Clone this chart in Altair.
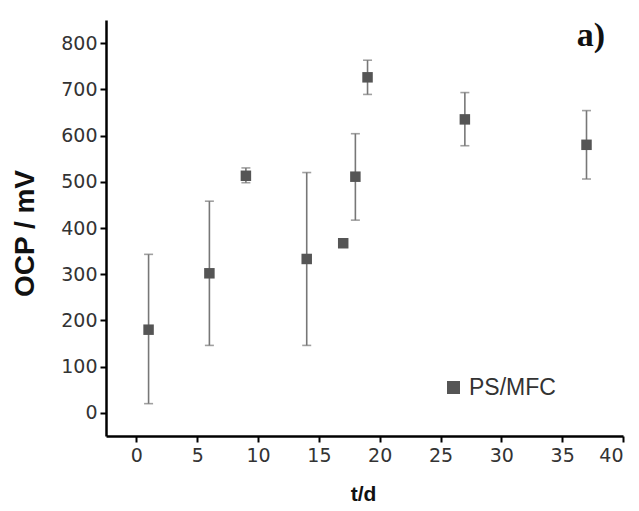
import altair as alt
import pandas as pd

days = [1, 6, 9, 14, 17, 18, 19, 27, 37]
ocp = [180, 302, 513, 333, 367, 511, 726, 635, 580]
err_low = [20, 146, 498, 146, 359, 417, 689, 578, 506]
err_high = [343, 458, 530, 520, 375, 604, 763, 693, 654]
series = ["PS/MFC"] * len(days)

df = pd.DataFrame({"t": days, "ocp": ocp, "lo": err_low, "hi": err_high, "series": series})

x_ticks = [i * 2.5 for i in range(0, 17)]
y_ticks = [i * 50 for i in range(0, 18)]

xscale = alt.Scale(domain=[-2.5, 40], nice=False, zero=False)
yscale = alt.Scale(domain=[-50, 850], nice=False, zero=False)

label_font = "DejaVu Sans"

xaxis = alt.Axis(
    values=x_ticks,
    labelExpr="datum.value % 5 === 0 ? datum.label : ''",
    labelOverlap=False,
    grid=False,
    domainColor="black", domainWidth=2.5,
    tickColor="black", tickWidth=2,
    tickSize={"condition": {"test": "datum.value % 5 !== 0", "value": 3}, "value": 6},
    labelFont=label_font, labelFontSize=19, labelColor="#333", labelPadding=4,
    title="t/d", titleFont="Liberation Sans", titleFontSize=21, titleFontWeight="bold",
    titleColor="#111", titleX=257, titleY=64, titleBaseline="alphabetic", titleAnchor="start", titleAlign="center",
)
yaxis = alt.Axis(
    values=y_ticks,
    labelExpr="datum.value % 100 === 0 && datum.value <= 800 ? datum.label : ''",
    labelOverlap=False,
    grid=False,
    domainColor="black", domainWidth=2.5,
    tickColor="black", tickWidth=2,
    tickSize={"condition": {"test": "datum.value % 100 !== 0", "value": 3}, "value": 6},
    labelFont=label_font, labelFontSize=19, labelColor="#333", labelPadding=3,
    title="OCP / mV", titleFont="Liberation Sans", titleFontSize=28, titleFontWeight="bold",
    titleColor="#111", titleX=-73, titleY=213, titleAngle=-90, titleBaseline="alphabetic",
    titleAlign="center", titleAnchor="start",
)

base = alt.Chart(df)

rules = base.mark_rule(color="#777", strokeWidth=1.6).encode(
    x=alt.X("t:Q", scale=xscale, axis=xaxis),
    y=alt.Y("lo:Q", scale=yscale, axis=yaxis),
    y2="hi:Q",
)
cap_lo = base.mark_tick(color="#777", orient="horizontal", size=9, thickness=1.6).encode(
    x=alt.X("t:Q", scale=xscale), y=alt.Y("lo:Q", scale=yscale)
)
cap_hi = base.mark_tick(color="#777", orient="horizontal", size=9, thickness=1.6).encode(
    x=alt.X("t:Q", scale=xscale), y=alt.Y("hi:Q", scale=yscale)
)
points = base.mark_point(shape="square", filled=True, size=110, opacity=1).encode(
    x=alt.X("t:Q", scale=xscale),
    y=alt.Y("ocp:Q", scale=yscale),
    color=alt.Color(
        "series:N",
        scale=alt.Scale(range=["#555555"]),
        legend=alt.Legend(
            title=None, orient="none", legendX=336, legendY=356,
            symbolType="square", symbolSize=169, symbolFillColor="#555555",
            symbolStrokeWidth=0, symbolOpacity=1,
            labelFont="Liberation Sans", labelFontSize=23, labelColor="#333",
            labelOffset=4, padding=0,
        ),
    ),
)

label_df = pd.DataFrame({"txt": ["a)"]})
panel = alt.Chart(label_df).mark_text(
    font="Liberation Serif", fontSize=34, fontWeight="bold", color="#111",
    align="center", baseline="alphabetic",
).encode(text="txt:N", x=alt.value(485), y=alt.value(26))

chart = alt.layer(rules, cap_lo, cap_hi, points, panel).properties(
    width=517, height=416,
    autosize=alt.AutoSizeParams(type="none"),
    padding={"left": 98, "top": 12, "right": 8, "bottom": 67},
).configure_view(stroke=None)

chart.save("out.html", embed_options={"renderer": "svg", "actions": False})
